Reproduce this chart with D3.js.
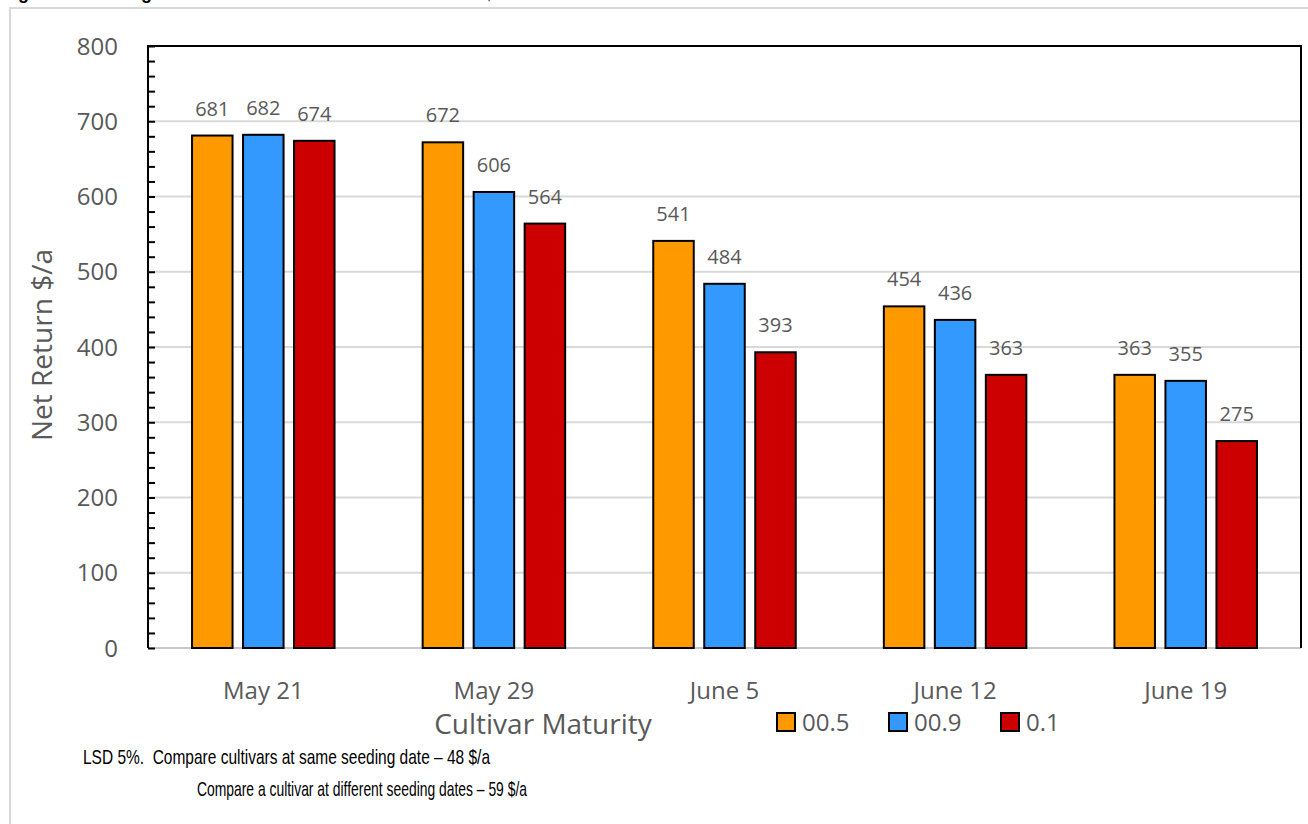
<!DOCTYPE html>
<html>
<head>
<meta charset="utf-8">
<script src="https://cdn.jsdelivr.net/npm/d3@7"></script>
<style>
  html, body { margin: 0; padding: 0; background: #fff; }
  svg { display: block; }
</style>
</head>
<body>
<svg id="chart" width="1308" height="824"></svg>
<script>
// Seeding dates on the x axis, cultivar maturities as grouped bars
const seedingDates = ["May 21", "May 29", "June 5", "June 12", "June 19"];
const cultivars = ["00.5", "00.9", "0.1"];
const return005 = [681, 672, 541, 454, 363];
const return009 = [682, 606, 484, 436, 355];
const return01 = [674, 564, 393, 363, 275];
const yTicks = [0, 100, 200, 300, 400, 500, 600, 700, 800];
const cultivarColors = ["#FF9900", "#3399FF", "#CC0000"];

const seriesValues = [return005, return009, return01];
const rows = seedingDates.map((d, i) => ({
  date: d,
  values: cultivars.map((c, k) => ({ cultivar: c, value: seriesValues[k][i] }))
}));

const svg = d3.select("#chart");
const margin = { left: 148, top: 46, right: 1301, bottom: 648 };
const textGray = "#595959";
const font = "'Open Sans', 'Noto Sans', sans-serif";

// Outer frame (light gray)
svg.append("path")
  .attr("d", "M10,824 L10,8 L1308,8")
  .attr("fill", "none").attr("stroke", "#d9d9d9").attr("stroke-width", 2);

// Caption heading, partly above the visible area
svg.append("text")
  .attr("x", 2).attr("y", -1)
  .attr("font-family", "'Liberation Sans', Arial, sans-serif")
  .attr("font-weight", "bold").attr("font-size", 18)
  .attr("fill", "#000")
  .text("Figure 5. Seeding dates and cultivar effect on net return $/a");

const x = d3.scaleBand().domain(seedingDates).range([margin.left, margin.right]).paddingInner(0).paddingOuter(0);
const y = d3.scaleLinear().domain([0, 800]).range([margin.bottom, margin.top]);
const barW = 40.5, barStep = 51;
const xInner = d3.scalePoint().domain(cultivars).range([-barStep, barStep]);

// Gridlines
svg.append("g").selectAll("line").data(yTicks.filter(t => t > 0 && t < 800)).join("line")
  .attr("x1", margin.left).attr("x2", margin.right)
  .attr("y1", d => y(d)).attr("y2", d => y(d))
  .attr("stroke", "#d9d9d9").attr("stroke-width", 2);

// Baseline
svg.append("line")
  .attr("x1", margin.left).attr("x2", margin.right)
  .attr("y1", y(0)).attr("y2", y(0))
  .attr("stroke", "#c8c8c8").attr("stroke-width", 2);

// Bars
const groups = svg.append("g").selectAll("g").data(rows).join("g")
  .attr("transform", d => `translate(${x(d.date) + x.bandwidth() / 2},0)`);

groups.selectAll("rect").data(d => d.values).join("rect")
  .attr("x", d => xInner(d.cultivar) - barW / 2)
  .attr("y", d => y(d.value))
  .attr("width", barW)
  .attr("height", d => y(0) - y(d.value))
  .attr("fill", (d, i) => cultivarColors[i])
  .attr("stroke", "#000").attr("stroke-width", 2);

groups.selectAll("text").data(d => d.values).join("text")
  .attr("x", d => xInner(d.cultivar))
  .attr("y", d => y(d.value) - 20)
  .attr("text-anchor", "middle")
  .attr("font-family", font).attr("font-size", 20)
  .attr("fill", textGray)
  .text(d => d.value);

// Plot border: left, top, right in black
svg.append("path")
  .attr("d", `M${margin.left},${margin.bottom} L${margin.left},${margin.top} L${margin.right},${margin.top} L${margin.right},${margin.bottom}`)
  .attr("fill", "none").attr("stroke", "#000").attr("stroke-width", 2);

// Y axis with inward minor ticks
const yAxis = d3.axisRight(y)
  .tickValues(d3.range(0, 801, 20))
  .tickSize(7).tickFormat("");
const yg = svg.append("g").attr("transform", `translate(${margin.left},0)`).call(yAxis);
yg.select(".domain").remove();
yg.selectAll(".tick line").attr("stroke", "#000").attr("stroke-width", 2);

svg.append("g").selectAll("text").data(yTicks).join("text")
  .attr("x", 118).attr("y", d => y(d))
  .attr("dy", "0.36em")
  .attr("text-anchor", "end")
  .attr("font-family", font).attr("font-size", 24)
  .attr("fill", textGray)
  .text(d => d);

// X axis labels
const xAxis = d3.axisBottom(x).tickSize(0).tickPadding(0);
const xg = svg.append("g").attr("transform", `translate(0,${y(0)})`).call(xAxis);
xg.select(".domain").remove();
xg.selectAll(".tick text")
  .attr("y", 51)
  .attr("dy", 0)
  .attr("font-family", font).attr("font-size", 24)
  .attr("fill", textGray);

// Axis titles
svg.append("text")
  .attr("transform", "translate(52,345) rotate(-90)")
  .attr("text-anchor", "middle")
  .attr("font-family", font).attr("font-size", 28)
  .attr("fill", textGray)
  .text("Net Return $/a");

svg.append("text")
  .attr("x", 543).attr("y", 734)
  .attr("text-anchor", "middle")
  .attr("font-family", font).attr("font-size", 28)
  .attr("fill", textGray)
  .text("Cultivar Maturity");

// Legend
const legendX = [777, 889, 1001];
const legend = svg.append("g").selectAll("g").data(cultivars).join("g")
  .attr("transform", (d, i) => `translate(${legendX[i]},713)`);
legend.append("rect")
  .attr("width", 18).attr("height", 18)
  .attr("fill", (d, i) => cultivarColors[i])
  .attr("stroke", "#000").attr("stroke-width", 2);
legend.append("text")
  .attr("x", 25).attr("y", 18)
  .attr("font-family", font).attr("font-size", 24)
  .attr("fill", textGray)
  .text(d => d);

// LSD footnote
const noteFont = "'Liberation Sans', Arial, sans-serif";
svg.append("text")
  .attr("x", 83).attr("y", 764)
  .attr("font-family", noteFont).attr("font-size", 21)
  .attr("fill", "#000")
  .attr("textLength", 407).attr("lengthAdjust", "spacingAndGlyphs")
  .text("LSD 5%.\u00a0 Compare cultivars at same seeding date \u2013 48 $/a");
svg.append("text")
  .attr("x", 197).attr("y", 796)
  .attr("font-family", noteFont).attr("font-size", 21)
  .attr("fill", "#000")
  .attr("textLength", 330).attr("lengthAdjust", "spacingAndGlyphs")
  .text("Compare a cultivar at different seeding dates \u2013 59 $/a");
</script>
</body>
</html>
